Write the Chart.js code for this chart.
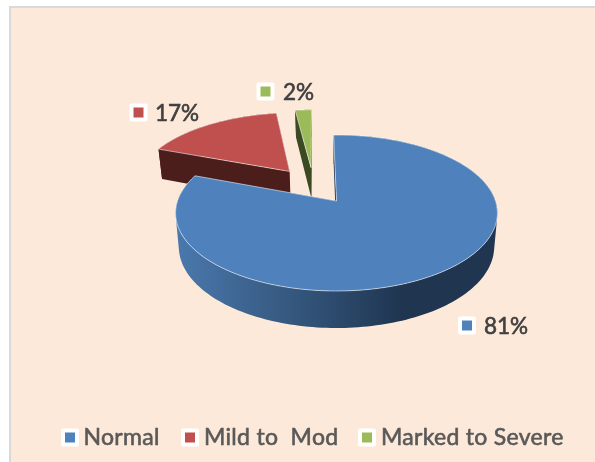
<!DOCTYPE html>
<html>
<head>
<meta charset="utf-8">
<script src="https://cdn.jsdelivr.net/npm/chart.js@4/dist/chart.umd.min.js"></script>
<style>
    html, body { margin: 0; background: #fff; }
    #box { width: 595px; height: 462px; }
    canvas { display: block; }
</style>
</head>
<body>
<div id="box"><canvas id="myChart"></canvas></div>
<script>
const categories = ['Normal', 'Mild to  Mod', 'Marked to Severe'];
const values = [81, 17, 2];
const sliceColors = ['#4f81bd', '#c0504d', '#9bbb59'];
const wallColors = ['#1f3550', '#4b1e1c', '#3b4a22'];

// Perspective of the tilted pie, the apex of the first slice lands on (cx, cy)
const view = { cx: 336.5, cy: 201, rx: 159, ry: 76.15, k: 0.1538 };

function project(p, bottom) {
    const s = 1 / (1 - view.k * p[1]);
    if (!bottom) {
        return [view.cx + view.rx * p[0] * s, view.cy + view.ry * p[1] * s];
    }
    const depth = 33 + 4 * p[1];
    return [view.cx + view.rx * p[0] * s * 0.98, view.cy + view.ry * p[1] * s + depth];
}

// Outline of a slice in plane units, taken from the arc the library laid out
function sliceOutline(arc, origin) {
    const { startAngle, endAngle, outerRadius } = arc.getProps(['startAngle', 'endAngle', 'outerRadius'], true);
    const mid = (startAngle + endAngle) / 2;
    const e = arc.options.offset / outerRadius;
    const ax = Math.cos(mid) * e - origin[0];
    const ay = Math.sin(mid) * e - origin[1];
    const rim = [];
    const steps = Math.max(4, Math.ceil((endAngle - startAngle) * 40));
    for (let i = 0; i <= steps; i++) {
        const a = startAngle + (endAngle - startAngle) * i / steps;
        rim.push([ax + Math.cos(a), ay + Math.sin(a)]);
    }
    return { apex: [ax, ay], rim };
}

function tracePoints(ctx, pts) {
    pts.forEach((p, n) => {
        if (n === 0) ctx.moveTo(p[0], p[1]);
        else ctx.lineTo(p[0], p[1]);
    });
    ctx.closePath();
}

// All quads go in one path with the same winding, so no seams show between them
function fillWall(ctx, top, low, style) {
    ctx.beginPath();
    for (let n = 0; n < top.length - 1; n++) {
        const quad = [top[n], top[n + 1], low[n + 1], low[n]];
        let area = 0;
        quad.forEach((p, j) => {
            const q = quad[(j + 1) % 4];
            area += p[0] * q[1] - q[0] * p[1];
        });
        tracePoints(ctx, area < 0 ? quad.reverse() : quad);
    }
    ctx.fillStyle = style;
    ctx.fill();
}

function drawKey(ctx, x, y, color) {
    ctx.fillStyle = '#fff';
    ctx.beginPath();
    ctx.roundRect(x - 9, y - 9, 18, 18, 2);
    ctx.fill();
    ctx.fillStyle = color;
    ctx.fillRect(x - 5, y - 5, 10, 10);
}

// Regular Lato is a little thin next to the reference, a hairline thickens it
function heavyText(ctx, text, x, y, color) {
    ctx.fillStyle = color;
    ctx.strokeStyle = color;
    ctx.lineWidth = 0.6;
    ctx.strokeText(text, x, y);
    ctx.fillText(text, x, y);
}

const pie3d = {
    id: 'pie3d',
    beforeDraw(chart) {
        const { ctx, width, height } = chart;
        ctx.save();
        ctx.fillStyle = '#d9d9d9';
        ctx.fillRect(9, 6, width - 9, height - 6);
        ctx.fillStyle = '#fde9d9';
        ctx.fillRect(11, 8, width - 11, height - 8);
        ctx.restore();
    },
    beforeDatasetsDraw(chart) {
        const ctx = chart.ctx;
        const arcs = chart.getDatasetMeta(0).data;
        const first = arcs[0].getProps(['startAngle', 'endAngle', 'outerRadius'], true);
        const firstMid = (first.startAngle + first.endAngle) / 2;
        const firstE = arcs[0].options.offset / first.outerRadius;
        const origin = [Math.cos(firstMid) * firstE, Math.sin(firstMid) * firstE];

        const blueWall = ctx.createLinearGradient(178, 0, 403, 0);
        blueWall.addColorStop(0, '#4a78ac');
        blueWall.addColorStop(0.5, '#35587f');
        blueWall.addColorStop(1, '#1f3550');

        ctx.save();
        // back slices first, the big one covers them
        [1, 2, 0].forEach(i => {
            const { apex, rim } = sliceOutline(arcs[i], origin);
            const top = rim.map(p => project(p));
            const low = rim.map(p => project(p, true));
            const apexTop = project(apex);
            const apexLow = project(apex, true);

            fillWall(ctx, [top[0], apexTop, top[top.length - 1]], [low[0], apexLow, low[low.length - 1]], wallColors[i]);
            fillWall(ctx, top, low, i === 0 ? blueWall : wallColors[i]);

            ctx.beginPath();
            tracePoints(ctx, [apexTop].concat(top));
            ctx.fillStyle = sliceColors[i];
            ctx.fill();
            ctx.strokeStyle = 'rgba(255,255,255,0.55)';
            ctx.lineWidth = 1;
            ctx.stroke();
        });
        ctx.restore();
        return false; // the flat arcs stay undrawn
    },
    afterDraw(chart) {
        const ctx = chart.ctx;
        ctx.save();
        ctx.textBaseline = 'middle';

        // data labels
        const labelSpots = [[467, 325.5, 484], [138.5, 112.5, 155], [265.5, 91.5, 283]];
        ctx.font = '22.5px Lato';
        values.forEach((v, i) => {
            const [kx, ky, tx] = labelSpots[i];
            drawKey(ctx, kx, ky, sliceColors[i]);
            heavyText(ctx, v + '%', tx, ky + 1, '#404040');
        });

        // legend row
        const legendSpots = [[70, 83.5], [190, 204], [367, 381]];
        ctx.font = '23px Lato';
        ctx.letterSpacing = '0.3px';
        categories.forEach((name, i) => {
            const [kx, tx] = legendSpots[i];
            drawKey(ctx, kx, 437.5, sliceColors[i]);
            heavyText(ctx, name, tx, 438, '#595959');
        });
        ctx.restore();
    }
};

const myChart = new Chart(document.getElementById('myChart').getContext('2d'), {
    type: 'pie',
    data: {
        labels: categories,
        datasets: [{
            data: values,
            backgroundColor: sliceColors,
            borderWidth: 0,
            offset: 53
        }]
    },
    options: {
        responsive: true,
        maintainAspectRatio: false,
        animation: false,
        rotation: -1.2,
        plugins: {
            legend: { display: false },
            tooltip: { enabled: false }
        }
    },
    plugins: [pie3d]
});
</script>
</body>
</html>
